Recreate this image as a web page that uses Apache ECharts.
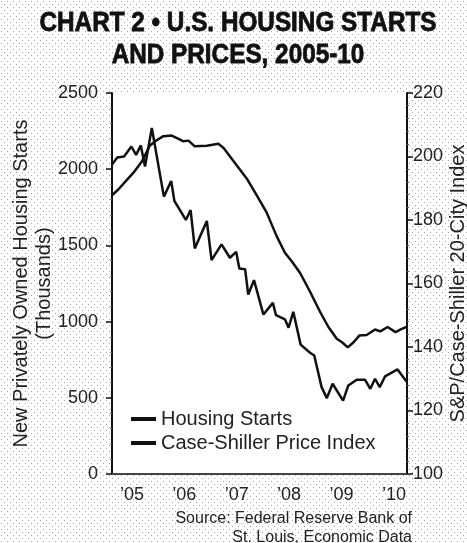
<!DOCTYPE html>
<html>
<head>
<meta charset="utf-8">
<script src="https://cdn.jsdelivr.net/npm/echarts@6/dist/echarts.min.js"></script>
<style>
  html, body { margin: 0; padding: 0; }
  #chart { width: 467px; height: 543px; }
</style>
</head>
<body>
<div id="chart"></div>
<script>
// housing starts (thousands), x in decimal years
var housingYears = [2004.62, 2004.72, 2004.85, 2004.99, 2005.08, 2005.17, 2005.25, 2005.38,
    2005.61, 2005.75, 2005.81, 2006.03, 2006.12, 2006.20, 2006.43, 2006.52, 2006.71, 2006.87,
    2006.99, 2007.05, 2007.16, 2007.22, 2007.33, 2007.51, 2007.69, 2007.75, 2007.92, 2007.99,
    2008.08, 2008.22, 2008.40, 2008.48, 2008.62, 2008.72, 2008.83, 2009.03, 2009.13, 2009.29,
    2009.45, 2009.55, 2009.64, 2009.73, 2009.83, 2010.07, 2010.24];
var housingStarts = [2030, 2077, 2083, 2149, 2094, 2156, 2018, 2270,
    1820, 1923, 1792, 1667, 1732, 1480, 1660, 1403, 1507, 1419,
    1458, 1349, 1344, 1178, 1272, 1046, 1123, 1042, 1015, 960,
    1064, 849, 796, 778, 570, 498, 592, 482, 581, 618,
    618, 559, 625, 570, 640, 686, 607];

// S&P/Case-Shiller 20-city index
var priceYears = [2004.62, 2004.74, 2004.87, 2005.03, 2005.19, 2005.34, 2005.47, 2005.60,
    2005.76, 2005.92, 2005.98, 2006.08, 2006.20, 2006.43, 2006.65, 2006.75, 2006.97, 2007.19,
    2007.38, 2007.57, 2007.76, 2007.92, 2008.05, 2008.21, 2008.40, 2008.59, 2008.75, 2008.91,
    2009.01, 2009.12, 2009.23, 2009.34, 2009.48, 2009.64, 2009.74, 2009.88, 2010.03, 2010.15, 2010.24];
var priceIndex = [187.8, 189.6, 192.0, 194.9, 198.4, 203.4, 205.1, 206.4,
    206.6, 205.3, 204.8, 205.0, 203.2, 203.4, 204.0, 202.7, 197.9, 193.1,
    187.8, 182.4, 175.0, 169.7, 167.0, 163.3, 157.4, 151.1, 146.3, 142.6,
    141.5, 139.9, 141.5, 143.6, 143.8, 145.5, 144.9, 146.3, 144.7, 145.7, 146.3];

var yearTicks = [2005, 2006, 2007, 2008, 2009, 2010];
var titleLines = ['CHART 2 \u2022 U.S. HOUSING STARTS', 'AND PRICES, 2005-10'];

function pairs(xs, ys) {
    var out = [];
    for (var i = 0; i < xs.length; i++) out.push([xs[i], ys[i]]);
    return out;
}

// stippled paper background
var dots = document.createElement('canvas');
dots.width = 6; dots.height = 6;
var g = dots.getContext('2d');
g.fillStyle = '#ffffff'; g.fillRect(0, 0, 6, 6);
g.fillStyle = '#a8a8a8';
g.fillRect(1, 1, 1, 1);
g.fillRect(4, 4, 1, 1);

// squeeze the heavy title into a condensed look
var titleFont = 'bold 28px Liberation Sans, Arial, sans-serif';
g.font = titleFont;
var titleScale = 397 / g.measureText(titleLines[0]).width;

var font = 'Liberation Sans, Arial, sans-serif';
var myChart = echarts.init(document.getElementById('chart'));

function titleText(str, y) {
    return {
        type: 'text', x: 238, y: y, scaleX: titleScale,
        style: {
            text: str, font: titleFont, fill: '#111',
            stroke: '#111', lineWidth: 0.8,
            textAlign: 'center', textVerticalAlign: 'middle'
        }
    };
}

var option = {
    backgroundColor: { image: dots, repeat: 'repeat' },
    animation: false,
    grid: {
        left: 112, right: 60, top: 93, bottom: 69,
        outerBoundsMode: 'none',
        show: true, backgroundColor: '#fff', borderWidth: 0
    },
    legend: {
        orient: 'vertical',
        left: 126, top: 404,
        icon: 'rect',
        itemWidth: 25, itemHeight: 4, itemGap: 4,
        textStyle: { fontFamily: font, fontSize: 20, color: '#222' },
        data: ['Housing Starts', 'Case-Shiller Price Index']
    },
    xAxis: {
        type: 'value',
        min: 2004.62, max: 2010.25,
        axisLine: { lineStyle: { color: '#444', width: 2 } },
        axisTick: { show: false },
        splitLine: { show: false },
        axisLabel: {
            customValues: yearTicks,
            margin: 12,
            fontFamily: font, fontSize: 18, color: '#222',
            formatter: function (v) { return '\u2019' + String(v).slice(2); }
        }
    },
    yAxis: [
        {
            type: 'value',
            min: 0, max: 2500, interval: 500,
            name: 'New Privately Owned Housing Starts\n(Thousands)',
            nameLocation: 'middle', nameRotate: 90, nameGap: 56,
            nameMoveOverlap: false,
            nameTextStyle: { fontFamily: font, fontSize: 20, lineHeight: 23, color: '#222' },
            axisLine: { show: true, lineStyle: { color: '#111', width: 2 } },
            axisTick: { show: true, length: 6, lineStyle: { color: '#111', width: 1.5 } },
            minorTick: { show: true, splitNumber: 5, length: 2, lineStyle: { color: '#666' } },
            splitLine: { show: false },
            axisLabel: {
                margin: 14, fontFamily: font, fontSize: 18, color: '#222',
                formatter: function (v) { return String(v); }
            }
        },
        {
            type: 'value',
            min: 100, max: 220, interval: 20,
            position: 'right',
            name: 'S&P/Case-Shiller 20-City Index',
            nameLocation: 'middle', nameRotate: 90, nameGap: 41,
            nameMoveOverlap: false,
            nameTextStyle: { fontFamily: font, fontSize: 20, color: '#222' },
            axisLine: { show: true, lineStyle: { color: '#111', width: 2 } },
            axisTick: { show: true, length: 6, lineStyle: { color: '#111', width: 1.5 } },
            minorTick: { show: true, splitNumber: 5, length: 2, lineStyle: { color: '#666' } },
            splitLine: { show: false },
            axisLabel: { margin: 6, fontFamily: font, fontSize: 18, color: '#222' }
        }
    ],
    graphic: [
        titleText(titleLines[0], 23),
        titleText(titleLines[1], 55),
        {
            type: 'text', right: 55, top: 509,
            style: {
                text: 'Source: Federal Reserve Bank of\nSt. Louis, Economic Data',
                textAlign: 'right',
                font: '16px Liberation Sans, Arial, sans-serif',
                lineHeight: 19,
                fill: '#222'
            }
        }
    ],
    series: [
        {
            name: 'Housing Starts',
            type: 'line',
            yAxisIndex: 0,
            showSymbol: false,
            lineStyle: { color: '#111', width: 2.5 },
            itemStyle: { color: '#111' },
            data: pairs(housingYears, housingStarts)
        },
        {
            name: 'Case-Shiller Price Index',
            type: 'line',
            yAxisIndex: 1,
            showSymbol: false,
            lineStyle: { color: '#111', width: 2.5 },
            itemStyle: { color: '#111' },
            data: pairs(priceYears, priceIndex)
        }
    ]
};

myChart.setOption(option);
window.addEventListener('resize', function () {
    myChart.resize();
});
</script>
</body>
</html>
